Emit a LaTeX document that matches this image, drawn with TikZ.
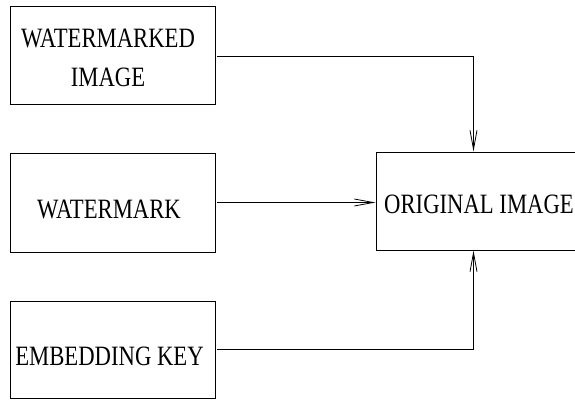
\documentclass[tikz,border=0pt]{standalone}
\usepackage{fontspec}
\newfontfamily\boxfont[FakeStretch=0.81]{Liberation Serif}
\usetikzlibrary{arrows.meta}
\begin{document}
\begin{tikzpicture}[x=1pt,y=-1pt,
  box/.style={draw, line width=1pt, rectangle, inner sep=0pt, minimum width=205pt},
  txt/.style={anchor=base, inner sep=0pt, align=center,
    font=\boxfont\fontsize{28}{39}\selectfont},
  arr/.style={line width=0.8pt, -{Straight Barb[length=19pt,width=7pt,line width=0.8pt]}}]
  \useasboundingbox (0,0) rectangle (575,401);
  % input boxes
  \node[box, minimum height=98pt] (wimg) at (112.5,56) {};
  \node[box, minimum height=99pt] (wm) at (112.5,202.5) {};
  \node[box, minimum height=97pt] (key) at (112.5,349.5) {};
  % output box (runs past the right border)
  \node[box, minimum width=201pt, minimum height=98pt] (orig) at (476.5,201) {};
  % labels (base anchor sits on the last line's baseline)
  \node[txt] (t1) at (108,87) {WATERMARKED\\IMAGE};
  \node[txt] (t2) at (109,218) {WATERMARK};
  \node[txt] (t3) at (109.5,365) {EMBEDDING KEY};
  \node[txt] (t4) at (479,213) {ORIGINAL IMAGE};
  % connectors
  \coordinate (topin) at ([xshift=-3pt]orig.north);
  \coordinate (botin) at ([xshift=-3pt]orig.south);
  \draw[arr] ([xshift=1.5pt]wimg.east) -| (topin);
  \draw[arr] ([xshift=1.5pt]wm.east) -- (wm.east -| orig.west);
  \draw[arr] ([xshift=1.5pt]key.east) -| (botin);
\end{tikzpicture}
\end{document}
